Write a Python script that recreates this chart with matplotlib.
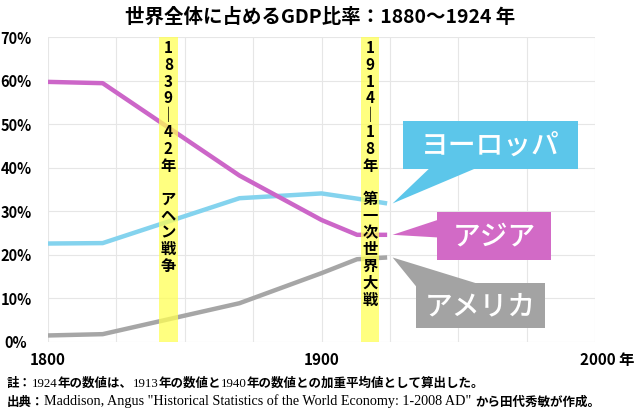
import matplotlib
matplotlib.use("Agg")
import matplotlib.pyplot as plt
from matplotlib.patches import Polygon, Rectangle
import matplotlib.transforms as mtransforms

plt.rcParams['font.family'] = ['Noto Sans CJK JP', 'DejaVu Sans']

# ---- data ----
years = [1800, 1820, 1870, 1900, 1913, 1924]
europe = [22.6, 22.7, 33.0, 34.1, 32.9, 31.8]
asia = [59.7, 59.4, 38.2, 28.0, 24.6, 24.6]
america = [1.5, 1.8, 8.9, 15.8, 19.0, 19.4]
series_names = ["ヨーロッパ", "アジア", "アメリカ"]
line_colors = ["#84D3EE", "#CC66C8", "#A6A6A6"]
box_colors = ["#5CC6EA", "#D26AC6", "#A3A3A3"]

bands = [(1840.5, 1847.5), (1914.3, 1921.1)]
band_texts = ["1\n8\n3\n9\n｜\n4\n2\n年\n\nア\nヘ\nン\n戦\n争",
              "1\n9\n1\n4\n｜\n1\n8\n年\n\n第\n一\n次\n世\n界\n大\n戦"]

yticks = [0, 10, 20, 30, 40, 50, 60, 70]
ytick_labels = [f"{v}%" for v in yticks]
xticks = [1800, 1900, 2000]
xtick_labels = ["1800", "1900", "2000 年"]

title = "世界全体に占めるGDP比率：1880〜1924 年"
# footnote runs: (text, is_japanese)
note1 = [("註：", True), ("1924", False), ("年の数値は、", True), ("1913", False),
         ("年の数値と", True), ("1940", False), ("年の数値との加重平均値として算出した。", True)]
note2 = [("出典：", True),
         ("Maddison, Angus \"Historical Statistics of the World Economy: 1-2008 AD\" ", False),
         ("から田代秀敏が作成。", True)]

# ---- figure ----
fig = plt.figure(figsize=(6.4, 4.17), dpi=100)
ax = fig.add_axes([48/640, 1-342/417, (595-48)/640, (342-37)/417])
ax.set_xlim(1800, 2000)
ax.set_ylim(0, 70)

# grid
for x in range(1800, 2001, 25):
    ax.axvline(x, color="#E6E6E6", lw=0.8, zorder=0)
for y in yticks:
    ax.axhline(y, color="#E6E6E6", lw=0.8, zorder=0)
for s in ax.spines.values():
    s.set_visible(False)

# lines
for vals, c in zip([europe, asia, america], line_colors):
    ax.plot(years, vals, color=c, lw=3.2, solid_capstyle='butt', zorder=2)

# bands
for (x0, x1), t in zip(bands, band_texts):
    ax.add_patch(Rectangle((x0, 0), x1 - x0, 70, facecolor="#FFFF55", alpha=0.75,
                           edgecolor='none', zorder=3))
    ax.text((x0 + x1) / 2, 69.3, t, ha='center', va='top', fontsize=11,
            fontweight='bold', color='black', linespacing=1.06, zorder=4)

# callouts
boxes = [
    (1929.8, 1993.8, 39.8, 50.7),
    (1942.2, 1983.9, 18.8, 29.8),
    (1934.6, 1981.7, 3.2, 13.6),
]
tails = [
    [(1939.7, 40.0), (1956.9, 40.0)],
    [(1942.4, 28.0), (1942.4, 24.0)],
    [(1934.8, 12.6), (1957.0, 13.4)],
]
last_vals = [europe[-1], asia[-1], america[-1]]
for (bx0, bx1, by0, by1), tb, lv, c, name in zip(boxes, tails, last_vals, box_colors, series_names):
    tip = (years[-1] + 2, lv)
    ax.add_patch(Polygon([tb[0], tb[1], tip], closed=True, facecolor=c,
                         edgecolor='none', zorder=5, clip_on=False))
    ax.add_patch(Rectangle((bx0, by0), bx1 - bx0, by1 - by0, facecolor=c,
                           edgecolor='none', zorder=5, clip_on=False))
    ax.text((bx0 + bx1) / 2, (by0 + by1) / 2, name,
            ha='center', va='center', fontsize=20, fontweight='medium',
            color='white', zorder=6)

# ticks
ax.set_yticks(yticks)
ax.set_yticklabels(ytick_labels, fontsize=10.5, fontweight='bold', ha='center')
ax.tick_params(axis='y', length=0, pad=23)
ax.set_xticks(xticks)
ax.set_xticklabels(xtick_labels, fontsize=11, fontweight='bold')
ax.tick_params(axis='x', length=0, pad=7)
last_lbl = ax.get_xticklabels()[-1]
last_lbl.set_transform(last_lbl.get_transform() +
                       mtransforms.ScaledTranslation(12/100, 0, fig.dpi_scale_trans))

fig.text(0.5, 1 - 17/417, title, ha='center', va='center', fontsize=14, fontweight='bold')

renderer = fig.canvas.get_renderer()
W = fig.get_figwidth() * fig.dpi


def draw_runs(runs, y_px, jp_size, latin_size):
    x = 7 / W
    for s, jp in runs:
        if jp:
            t = fig.text(x, 1 - y_px / 417, s, ha='left', va='baseline',
                         fontsize=jp_size, fontweight='bold', family=['Noto Sans CJK JP'])
        else:
            t = fig.text(x, 1 - y_px / 417, s, ha='left', va='baseline',
                         fontsize=latin_size, fontweight='normal',
                         family=['Liberation Serif', 'Noto Sans CJK JP'])
        bb = t.get_window_extent(renderer)
        x = bb.x1 / W


draw_runs(note1, 387, 9.0, 9.3)
draw_runs(note2, 405.5, 9.0, 10.2)

fig.savefig("out.png", dpi=100)
